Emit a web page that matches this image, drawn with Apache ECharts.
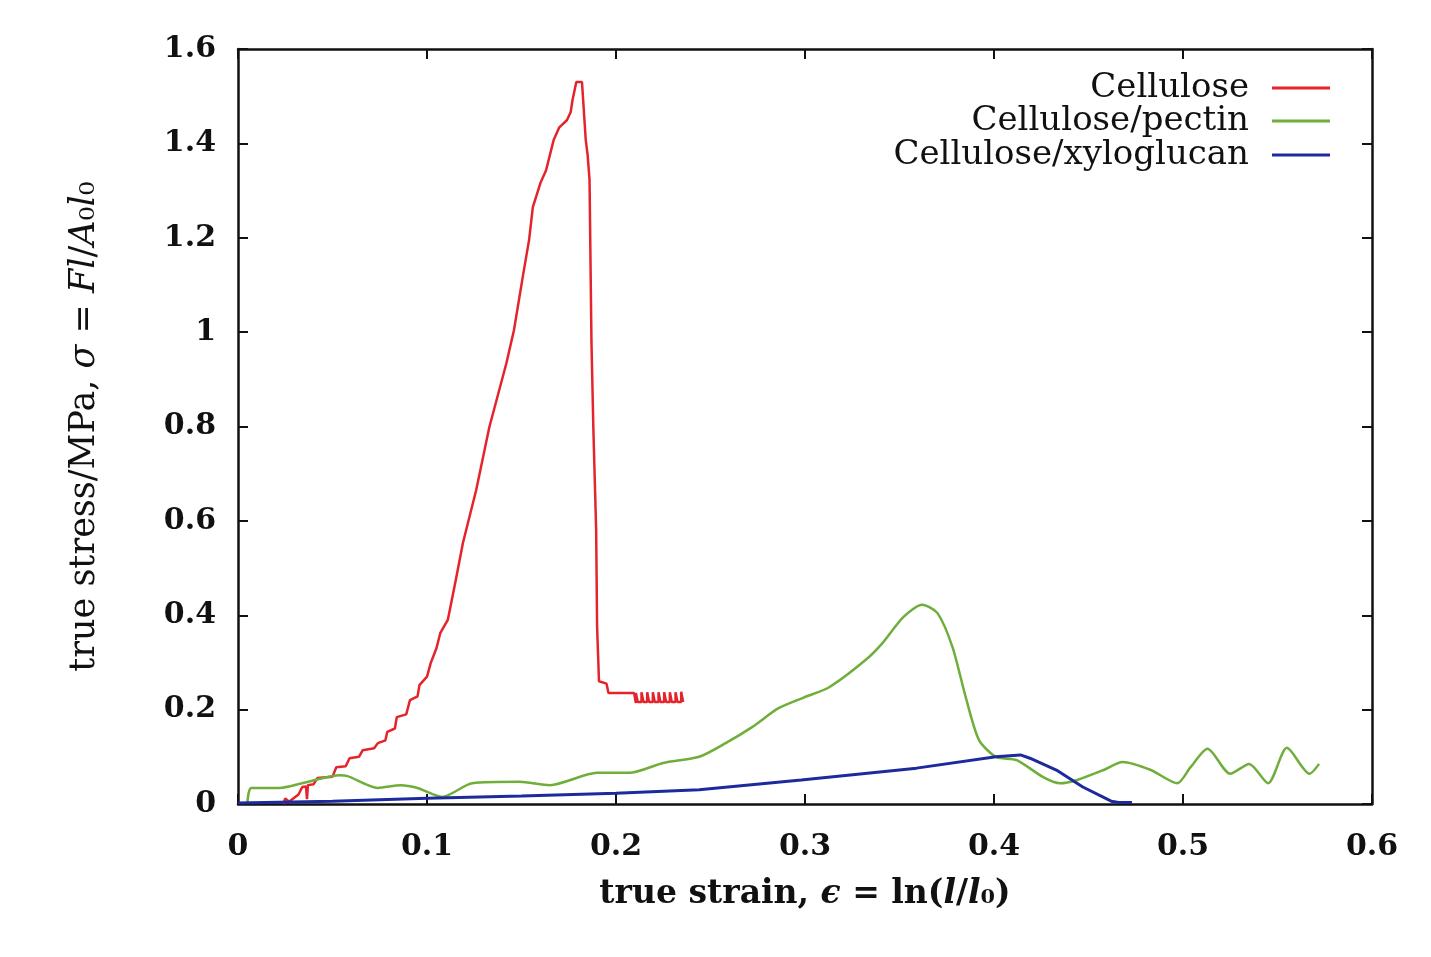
<!DOCTYPE html>
<html>
<head>
<meta charset="utf-8">
<script src="https://cdn.jsdelivr.net/npm/echarts@6/dist/echarts.min.js"></script>
<style>
  html, body { margin: 0; padding: 0; background: #fff; }
  #chart { width: 1431px; height: 957px; }
</style>
</head>
<body>
<div id="chart"></div>
<script>
// Tensile tests: true stress vs true strain for three composite films
const seriesNames = ['Cellulose', 'Cellulose/pectin', 'Cellulose/xyloglucan'];
const xTicks = [0, 0.1, 0.2, 0.3, 0.4, 0.5, 0.6];
const yTicks = [0, 0.2, 0.4, 0.6, 0.8, 1.0, 1.2, 1.4, 1.6];

const celluloseStrain = [
  0.024, 0.025, 0.027, 0.032, 0.034, 0.036, 0.0365, 0.037, 0.040, 0.042, 0.050, 0.052,
  0.057, 0.059, 0.064, 0.066, 0.072, 0.074, 0.078, 0.079, 0.083, 0.084,
  0.089, 0.091, 0.095, 0.096, 0.100, 0.102, 0.105, 0.107, 0.111, 0.115,
  0.119, 0.126, 0.133, 0.142, 0.146, 0.151, 0.154, 0.156, 0.160, 0.163,
  0.167, 0.170, 0.174, 0.176, 0.177, 0.179, 0.182, 0.184, 0.185, 0.186,
  0.187, 0.188, 0.1895, 0.190, 0.191, 0.195, 0.196, 0.2096, 0.2105,
  0.2105, 0.2115, 0.2115, 0.2125, 0.2135, 0.2135, 0.2145, 0.2165, 0.2165, 0.2175,
  0.2195, 0.2195, 0.2205, 0.2225, 0.2225, 0.2235, 0.2255, 0.2255, 0.2265,
  0.2285, 0.2285, 0.2295, 0.2315, 0.2315, 0.2325, 0.2345, 0.2345, 0.2355
];
const celluloseStress = [
  0.000, 0.012, 0.005, 0.020, 0.036, 0.037, 0.010, 0.040, 0.042, 0.055, 0.058, 0.078,
  0.080, 0.097, 0.100, 0.114, 0.118, 0.129, 0.135, 0.153, 0.160, 0.184,
  0.190, 0.220, 0.228, 0.252, 0.270, 0.299, 0.330, 0.362, 0.390, 0.470,
  0.553, 0.665, 0.799, 0.934, 1.004, 1.125, 1.195, 1.265, 1.316, 1.343,
  1.407, 1.434, 1.449, 1.466, 1.492, 1.530, 1.530, 1.407, 1.375, 1.322,
  0.983, 0.799, 0.580, 0.375, 0.260, 0.255, 0.235, 0.235, 0.214,
  0.235, 0.235, 0.216, 0.216, 0.216, 0.237, 0.216, 0.216, 0.237, 0.216,
  0.216, 0.237, 0.216, 0.216, 0.237, 0.216, 0.216, 0.237, 0.216,
  0.216, 0.237, 0.216, 0.216, 0.237, 0.216, 0.216, 0.238, 0.216
];

const pectinStrain = [
  0.005, 0.007, 0.022, 0.034, 0.054, 0.058, 0.074, 0.086, 0.095, 0.108,
  0.124, 0.149, 0.165, 0.190, 0.207, 0.225, 0.244, 0.258, 0.272, 0.286,
  0.299, 0.313, 0.332, 0.341, 0.352, 0.362, 0.370, 0.378, 0.385, 0.392,
  0.401, 0.412, 0.426, 0.435, 0.444, 0.458, 0.468, 0.483, 0.497, 0.504,
  0.513, 0.525, 0.535, 0.545, 0.555, 0.567, 0.572
];
const pectinStress = [
  0.004, 0.034, 0.034, 0.044, 0.061, 0.059, 0.034, 0.040, 0.034, 0.015,
  0.044, 0.047, 0.040, 0.066, 0.066, 0.087, 0.100, 0.129, 0.163, 0.203,
  0.225, 0.248, 0.305, 0.341, 0.396, 0.422, 0.405, 0.333, 0.227, 0.136,
  0.100, 0.093, 0.057, 0.044, 0.051, 0.072, 0.089, 0.072, 0.044, 0.078,
  0.117, 0.064, 0.085, 0.044, 0.119, 0.064, 0.085
];

const xyloglucanStrain = [
  0.000, 0.050, 0.100, 0.150, 0.200, 0.244, 0.298, 0.359, 0.401, 0.414,
  0.419, 0.433, 0.447, 0.462, 0.466, 0.473
];
const xyloglucanStress = [
  0.002, 0.006, 0.012, 0.017, 0.023, 0.030, 0.051, 0.076, 0.100, 0.104,
  0.097, 0.072, 0.036, 0.006, 0.003, 0.003
];

const zip = (xs, ys) => xs.map((x, i) => [x, ys[i]]);
const colors = ['#e5232b', '#6fae3a', '#1c2a9e'];
const serif = '"DejaVu Serif", "Liberation Serif", serif';

const chart = echarts.init(document.getElementById('chart'), null, { renderer: 'canvas' });

const tickStyle = { show: true, inside: true, length: 10, lineStyle: { color: '#111', width: 2 } };
const lineStyle = { show: true, onZero: false, lineStyle: { color: '#111', width: 2.5 } };

function legendFor(i, top) {
  return {
    data: [seriesNames[i]],
    right: 101,
    top: top,
    padding: 0,
    align: 'right',
    itemWidth: 58,
    itemHeight: 3,
    itemGap: 0,
    icon: 'rect',
    textStyle: { fontFamily: serif, fontSize: 34, color: '#111', padding: [0, 18, 0, 0] },
    selectedMode: false
  };
}

chart.setOption({
  backgroundColor: '#fff',
  animation: false,
  grid: { left: 238, right: 59, top: 49, bottom: 153 },
  legend: [legendFor(0, 71), legendFor(1, 104), legendFor(2, 138)],
  xAxis: [
    {
      type: 'value', min: 0, max: 0.6, interval: 0.1, position: 'bottom',
      axisLine: lineStyle, axisTick: tickStyle, splitLine: { show: false },
      axisLabel: {
        margin: 28, fontFamily: serif, fontWeight: 'bold', fontSize: 30, color: '#111',
        formatter: v => String(xTicks.find(t => Math.abs(t - v) < 1e-9) ?? v)
      },
      name: '{r|true strain, }{i|ϵ}{r| = ln(}{i|l}{r|/}{i|l}{r|₀)}',
      nameLocation: 'middle', nameGap: 74,
      nameTextStyle: {
        rich: {
          r: { fontFamily: serif, fontSize: 33, fontWeight: 'bold', color: '#111' },
          i: { fontFamily: serif, fontSize: 33, fontWeight: 'bold', fontStyle: 'italic', color: '#111' }
        }
      }
    },
    {
      type: 'value', min: 0, max: 0.6, interval: 0.1, position: 'top',
      axisLine: lineStyle, axisTick: tickStyle, axisLabel: { show: false }, splitLine: { show: false }
    }
  ],
  yAxis: [
    {
      type: 'value', min: 0, max: 1.6, interval: 0.2, position: 'left',
      axisLine: lineStyle, axisTick: tickStyle, splitLine: { show: false },
      axisLabel: {
        margin: 22, fontFamily: serif, fontWeight: 'bold', fontSize: 30, color: '#111',
        formatter: v => String(yTicks.find(t => Math.abs(t - v) < 1e-9) ?? v)
      },
      name: '{r|true stress/MPa, }{i|σ}{r| = }{i|Fl}{r|/}{i|A}{r|₀}{i|l}{r|₀}',
      nameLocation: 'middle', nameGap: 136, nameRotate: 90,
      nameTextStyle: {
        rich: {
          r: { fontFamily: serif, fontSize: 35, color: '#111' },
          i: { fontFamily: serif, fontSize: 35, fontStyle: 'italic', color: '#111' }
        }
      }
    },
    {
      type: 'value', min: 0, max: 1.6, interval: 0.2, position: 'right',
      axisLine: lineStyle, axisTick: tickStyle, axisLabel: { show: false }, splitLine: { show: false }
    }
  ],
  series: [
    {
      name: seriesNames[0], type: 'line', data: zip(celluloseStrain, celluloseStress),
      showSymbol: false, lineStyle: { color: colors[0], width: 2.5 }, itemStyle: { color: colors[0] }
    },
    {
      name: seriesNames[1], type: 'line', data: zip(pectinStrain, pectinStress), smooth: 0.25,
      showSymbol: false, lineStyle: { color: colors[1], width: 2.5 }, itemStyle: { color: colors[1] }
    },
    {
      name: seriesNames[2], type: 'line', data: zip(xyloglucanStrain, xyloglucanStress),
      showSymbol: false, lineStyle: { color: colors[2], width: 3 }, itemStyle: { color: colors[2] }
    }
  ]
});
</script>
</body>
</html>
